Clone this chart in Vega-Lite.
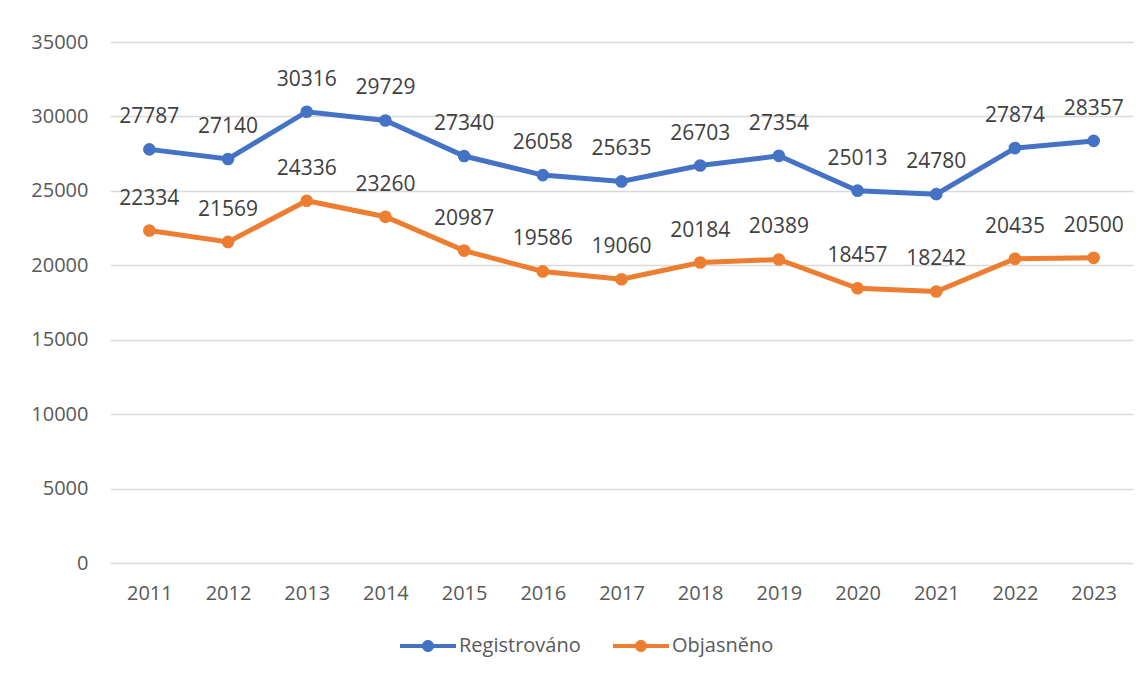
{
  "$schema": "https://vega.github.io/schema/vega-lite/v6.json",
  "width": 1023,
  "height": 521,
  "autosize": {"type": "none"},
  "padding": {"left": 110, "top": 42, "right": 15, "bottom": 114},
  "background": "white",
  "config": {
    "view": {"stroke": null},
    "font": "Open Sans",
    "axis": {"labelFont": "Open Sans", "labelColor": "#595959", "labelFontSize": 20}
  },
  "data": {
    "values": [
      {"year": "2011", "series": "Registrováno", "value": 27787},
      {"year": "2012", "series": "Registrováno", "value": 27140},
      {"year": "2013", "series": "Registrováno", "value": 30316},
      {"year": "2014", "series": "Registrováno", "value": 29729},
      {"year": "2015", "series": "Registrováno", "value": 27340},
      {"year": "2016", "series": "Registrováno", "value": 26058},
      {"year": "2017", "series": "Registrováno", "value": 25635},
      {"year": "2018", "series": "Registrováno", "value": 26703},
      {"year": "2019", "series": "Registrováno", "value": 27354},
      {"year": "2020", "series": "Registrováno", "value": 25013},
      {"year": "2021", "series": "Registrováno", "value": 24780},
      {"year": "2022", "series": "Registrováno", "value": 27874},
      {"year": "2023", "series": "Registrováno", "value": 28357},
      {"year": "2011", "series": "Objasněno", "value": 22334},
      {"year": "2012", "series": "Objasněno", "value": 21569},
      {"year": "2013", "series": "Objasněno", "value": 24336},
      {"year": "2014", "series": "Objasněno", "value": 23260},
      {"year": "2015", "series": "Objasněno", "value": 20987},
      {"year": "2016", "series": "Objasněno", "value": 19586},
      {"year": "2017", "series": "Objasněno", "value": 19060},
      {"year": "2018", "series": "Objasněno", "value": 20184},
      {"year": "2019", "series": "Objasněno", "value": 20389},
      {"year": "2020", "series": "Objasněno", "value": 18457},
      {"year": "2021", "series": "Objasněno", "value": 18242},
      {"year": "2022", "series": "Objasněno", "value": 20435},
      {"year": "2023", "series": "Objasněno", "value": 20500}
    ]
  },
  "encoding": {
    "x": {
      "field": "year", "type": "ordinal",
      "scale": {"type": "point", "padding": 0.5},
      "axis": {"title": null, "labelAngle": 0, "domain": false, "ticks": false, "labelPadding": 20, "grid": false}
    },
    "y": {
      "field": "value", "type": "quantitative",
      "scale": {"domain": [0, 35000]},
      "axis": {"title": null, "values": [0, 5000, 10000, 15000, 20000, 25000, 30000, 35000], "format": "d", "domain": false, "ticks": false, "labelPadding": 22, "gridColor": "#d9d9d9", "gridWidth": 1.5}
    },
    "color": {
      "field": "series", "type": "nominal",
      "scale": {"domain": ["Registrováno", "Objasněno"], "range": ["#4472C4", "#ED7D31"]},
      "legend": {
        "title": null, "orient": "none", "direction": "horizontal",
        "legendX": 304, "legendY": 590,
        "symbolType": "M-2,-0.14 L2,-0.14 L2,0.14 L-2,0.14 Z M-0.43,0 A0.43,0.43 0 1 1 0.43,0 A0.43,0.43 0 1 1 -0.43,0 Z",
        "symbolSize": 784, "symbolStrokeWidth": 0, "symbolOpacity": 1,
        "labelFont": "Open Sans", "labelFontSize": 20, "labelColor": "#595959",
        "columnPadding": 32, "labelOffset": 17
      }
    }
  },
  "layer": [
    {"mark": {"type": "line", "strokeWidth": 5, "strokeCap": "round"}},
    {"mark": {"type": "point", "filled": true, "size": 160, "opacity": 1}},
    {
      "mark": {"type": "text", "dy": -32, "fontSize": 21, "font": "Open Sans", "color": "#404040"},
      "encoding": {"text": {"field": "value", "type": "quantitative", "format": "d"}, "color": {"value": "#404040"}}
    }
  ]
}
